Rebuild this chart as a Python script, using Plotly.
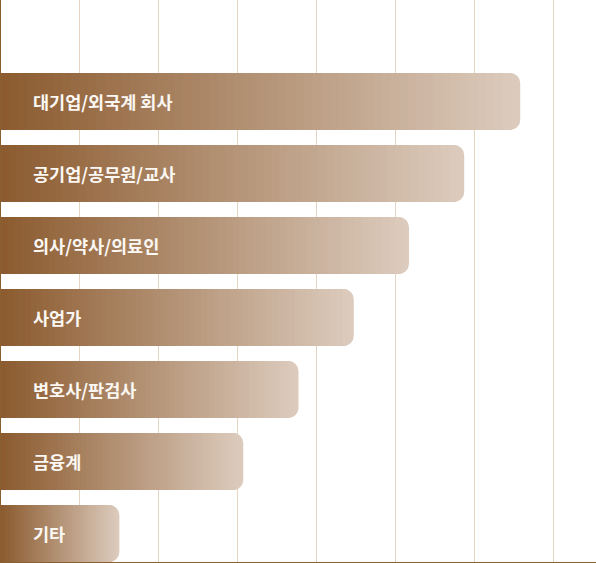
import plotly.graph_objects as go

categories = ["대기업/외국계 회사", "공기업/공무원/교사", "의사/약사/의료인", "사업가", "변호사/판검사", "금융계", "기타"]
values = [65.8, 58.7, 51.7, 44.7, 37.7, 30.7, 15.0]

dark = (139, 90, 46)
light = (220, 203, 189)
N = 60

n = len(categories)
ypos = list(range(n - 1, -1, -1))

fig = go.Figure()
for k in range(N):
    frac = 1 - k / N
    t = frac
    c = tuple(round(dark[i] + (light[i] - dark[i]) * t) for i in range(3))
    fig.add_trace(go.Bar(
        y=ypos, x=[v * frac for v in values], orientation="h",
        marker=dict(color="rgb(%d,%d,%d)" % c, line=dict(width=0), cornerradius=10),
        width=0.79, hoverinfo="skip", showlegend=False,
    ))

for cat, y in zip(categories, ypos):
    fig.add_annotation(x=0, y=y, text=cat, showarrow=False, xanchor="left", yanchor="middle",
                       xshift=30, font=dict(family="Noto Sans CJK KR", size=17.5, color="#fbf7f3", weight="bold"))

fig.update_layout(
    width=596, height=563, barmode="overlay",
    margin=dict(l=1, r=0, t=0, b=1),
    paper_bgcolor="white", plot_bgcolor="white",
    xaxis=dict(range=[0, 75.4], dtick=10, tick0=0, showgrid=True, gridcolor="#e4d6c2", gridwidth=1,
               showticklabels=False, zeroline=False, showline=True, linecolor="#8b6030", linewidth=2,
               ticks=""),
    yaxis=dict(range=[-0.395, 7.41], showgrid=False, showticklabels=False, zeroline=False,
               showline=True, linecolor="#8b6030", linewidth=2, ticks=""),
)
fig.write_html("out.html", config={"displayModeBar": False},
               post_script="document.body.style.margin='0';")
